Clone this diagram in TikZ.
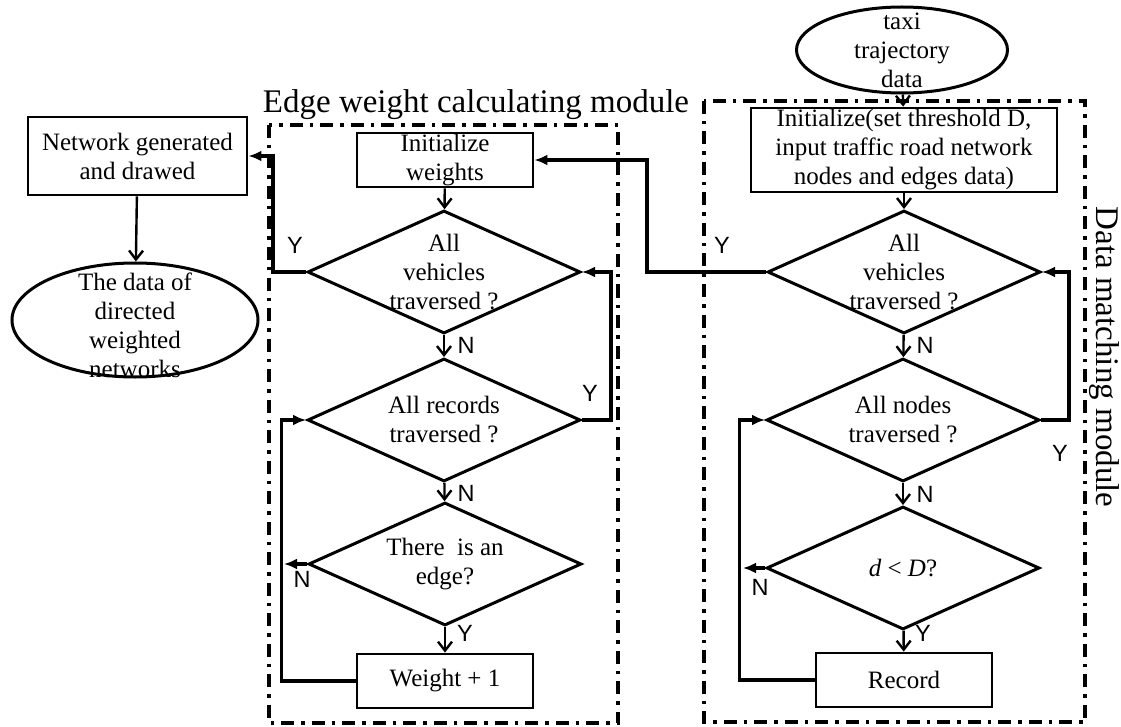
\documentclass[tikz,border=0pt]{standalone}
\usepackage{fontspec}
\setmainfont{Liberation Serif}
\newfontfamily\ynfamily{Liberation Sans}
\usetikzlibrary{shapes.geometric,arrows.meta}
\newcommand\flowfont{\fontsize{25}{29}\selectfont}
\newcommand\ynfont{\ynfamily\fontsize{23.5}{26}\selectfont}
\newcommand\modfont{\fontsize{33}{36}\selectfont}
\tikzset{
  box/.style={draw,line width=2.8pt,rectangle,inner sep=0pt,align=center,font=\flowfont},
  decision/.style={draw,line width=3pt,diamond,inner sep=0pt,minimum width=273pt,minimum height=123pt},
  io/.style={draw,line width=3pt,ellipse,inner sep=0pt},
  flow/.style={line width=2.4pt,-{Straight Barb[length=9pt,width=14pt]}},
  back/.style={line width=3.6pt,-{Latex[length=13pt,width=11pt]}},
  module/.style={line width=3.5pt,dash pattern=on 13pt off 7pt on 3.5pt off 7pt},
  yn/.style={font=\ynfont,inner sep=0pt},
  every label/.style={font=\flowfont,align=center,inner sep=0pt}
}
\begin{document}
\begin{tikzpicture}[x=1pt,y=-1pt]
  \useasboundingbox (0,0) rectangle (1121,727);
  % module frames and titles
  \draw[module] (269,125) rectangle (618,723);
  \draw[module] (704,101) rectangle (1085,722);
  \node[font=\modfont,anchor=base] (edgetitle) at (476,113) {Edge weight calculating module};
  \node[font=\modfont,rotate=-90,anchor=base] (datatitle) at (1096,357) {Data matching module};
  % data matching module
  \node[io,minimum width=211pt,minimum height=86pt,label={center:taxi\\trajectory\\data}] (taxi) at (902,50) {};
  \node[box,minimum width=306pt,minimum height=84pt] (initdata) at (904,150)
    {Initialize(set threshold D,\\input traffic road network\\nodes and edges data)};
  \node[decision,label={center:All\\vehicles\\traversed ?}] (vehR) at (904,272) {};
  \node[decision,label={center:All nodes\\traversed ?}] (nodes) at (903,420) {};
  \node[decision,label={center:{\itshape d} < {\itshape D}?}] (dist) at (903,568) {};
  \node[box,minimum width=176pt,minimum height=54pt] (record) at (904,680) {Record};
  % edge weight calculating module
  \node[box,minimum width=176pt,minimum height=54pt] (initw) at (445,160) {Initialize\\weights};
  \node[decision,label={center:All\\vehicles\\traversed ?}] (vehL) at (444,272) {};
  \node[decision,label={center:All records\\traversed ?}] (recs) at (444,420) {};
  \node[decision,label={center:There\ \ is an\\edge?}] (edge) at (445,564) {};
  \node[box,minimum width=176pt,minimum height=54pt] (weight) at (445,681) {Weight + 1};
  % output
  \node[box,minimum width=219pt,minimum height=78pt] (net) at (137.5,156) {Network generated\\and drawed};
  \node[io,minimum width=246pt,minimum height=114pt,
    label={[yshift=-5pt]center:The data of\\directed\\weighted\\networks}] (result) at (135,320) {};
  % Y / N marks
  \node[yn] (yA) at (295,245) {Y};
  \node[yn] (nA) at (466,345) {N};
  \node[yn] (yB) at (590,393) {Y};
  \node[yn] (nB) at (466,493) {N};
  \node[yn] (nC) at (302,579) {N};
  \node[yn] (yC) at (465,633) {Y};
  \node[yn] (yD) at (722,245) {Y};
  \node[yn] (nD) at (925,345) {N};
  \node[yn] (yE) at (1060,453) {Y};
  \node[yn] (nE) at (925,494) {N};
  \node[yn] (nF) at (760,587) {N};
  \node[yn] (yF) at (923,633) {Y};
  % main flow
  \draw[flow] (taxi) -- (initdata);
  \draw[flow] (initdata) -- (vehR);
  \draw[flow] (vehR) -- (nodes);
  \draw[flow] (nodes) -- (dist);
  \draw[flow] (dist) -- (record);
  \draw[flow] (initw) -- (vehL);
  \draw[flow] (vehL) -- (recs);
  \draw[flow] (recs) -- (edge);
  \draw[flow] (edge) -- (weight);
  \draw[flow] (net) -- (result);
  % loops back
  \draw[back] (record.west) -- ++(-75,0) |- (nodes.west);
  \draw[back] (dist.west) -- ++(-22,0);
  \draw[back] (nodes.east) -- ++(28,0) |- (vehR.east);
  \draw[back] (vehR.west) -- ++(-119,0) |- (initw.east);
  \draw[back] (weight.west) -- ++(-74,0) |- (recs.west);
  \draw[back] (edge.west) -- ++(-23,0);
  \draw[back] (recs.east) -- ++(29,0) |- (vehL.east);
  \draw[back] (vehL.west) -- ++(-33,0) |- (net.east);
\end{tikzpicture}
\end{document}
